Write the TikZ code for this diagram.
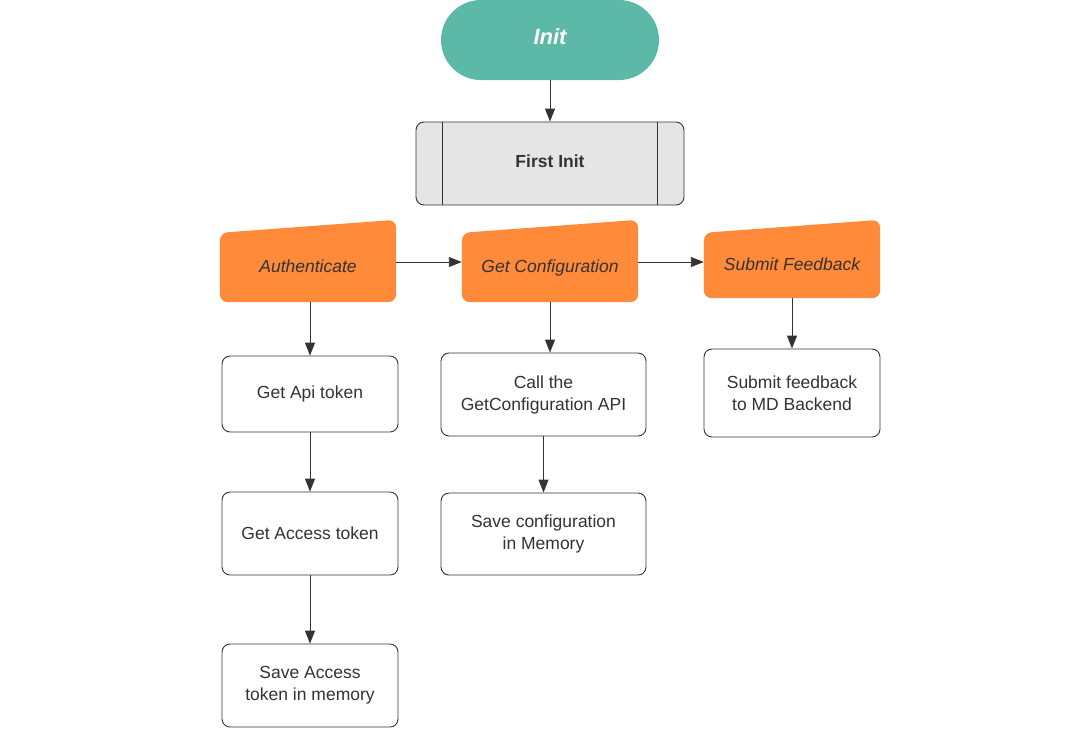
\documentclass[tikz,border=0pt]{standalone}
\usepackage{fontspec}
\setmainfont{Liberation Sans}
\usetikzlibrary{arrows.meta,backgrounds,calc}
\definecolor{initcol}{HTML}{5CB9A8}
\definecolor{orangecol}{HTML}{FF8A3A}
\definecolor{linecol}{HTML}{333333}
\definecolor{textcol}{HTML}{333333}
\definecolor{grayfill}{HTML}{E5E5E5}
\newcommand{\lowertext}[2]{\raisebox{#1}[0pt][0pt]{#2}}
\begin{document}
\begin{tikzpicture}[x=1pt,y=-1pt,
  font=\fontsize{17.5}{22}\selectfont,
  proc/.style={draw=linecol, line width=0.9pt, rounded corners=8pt, fill=white,
    text=textcol, align=center, minimum width=176pt, inner sep=0pt},
  inputbox/.style={minimum width=176pt, minimum height=82pt, inner sep=0pt,
    text=textcol, font=\fontsize{17.5}{22}\selectfont\itshape},
  arr/.style={draw=linecol, line width=0.9pt, -{Triangle[length=13pt,width=10pt]}},
  orangeshape/.style={fill=orangecol, rounded corners=8pt}
]
\useasboundingbox (0,0) rectangle (1092,729);

% Init
\node[fill=initcol, rounded corners=40pt, minimum width=218pt, minimum height=80pt,
  inner sep=0pt, text=white, font=\fontsize{22}{26}\selectfont\bfseries\itshape]
  (init) at (550,40) {\lowertext{-4.9pt}{Init}};

% First Init
\node[draw=linecol, line width=0.9pt, fill=grayfill, rounded corners=8pt,
  minimum width=268pt, minimum height=83pt, inner sep=0pt, text=textcol,
  font=\fontsize{17.5}{22}\selectfont\bfseries]
  (first) at (550,163.5) {\lowertext{-3.8pt}{First Init}};
\draw[linecol, line width=0.9pt] ($(first.north west)+(27,0)$) -- ($(first.south west)+(27,0)$);
\draw[linecol, line width=0.9pt] ($(first.north east)+(-27,0)$) -- ($(first.south east)+(-27,0)$);

% Orange manual input nodes
\node[inputbox] (auth) at (308,261) {\lowertext{-11.3pt}{Authenticate}};
\node[inputbox] (getconf) at (550,261) {\lowertext{-11.3pt}{Get Configuration}};
\node[inputbox, minimum height=78pt] (submit) at (792,259) {\lowertext{-11.3pt}{Submit Feedback}};
\begin{scope}[on background layer]
\foreach \n in {auth,getconf,submit}{
  \fill[orangeshape] (\n.south west) -- ($(\n.north west)+(0,13)$) -- (\n.north east)
    -- (\n.south east) -- cycle;
}
\end{scope}

% Process boxes
\node[proc, minimum height=76pt] (api) at (310,394) {Get Api token};
\node[proc, minimum height=83pt] (access) at (310,533.5) {Get Access token};
\node[proc, minimum height=83pt] (saveacc) at (310,685.5) {Save Access\\token in memory};
\node[proc, minimum width=205pt, minimum height=83pt] (call) at (543.5,394.5) {Call the\\GetConfiguration API};
\node[proc, minimum width=205pt, minimum height=82pt] (savecfg) at (543.5,534) {Save configuration\\in Memory};
\node[proc, minimum height=88pt] (fb) at (792,393) {Submit feedback\\to MD Backend};

% Connectors
\draw[arr] (init) -- (first);
\draw[arr] (auth.east |- 0,262) -- (getconf.west |- 0,262);
\draw[arr] (getconf.east |- 0,262) -- (submit.west |- 0,262);
\draw[arr] (api.north |- auth.south) -- (api.north);
\draw[arr] (api) -- (access);
\draw[arr] (access) -- (saveacc);
\draw[arr] (getconf.south) -- (getconf.south |- call.north);
\draw[arr] (call) -- (savecfg);
\draw[arr] (submit) -- (fb);
\end{tikzpicture}
\end{document}
